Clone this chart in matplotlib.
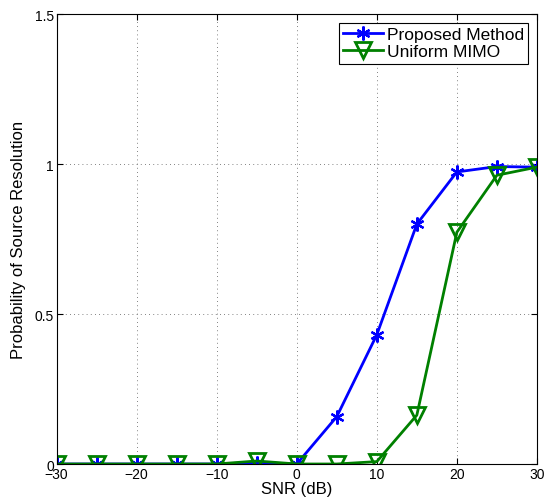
import matplotlib.pyplot as plt

plt.rcParams["font.family"] = ["Liberation Sans", "DejaVu Sans"]

snr = [-30, -25, -20, -15, -10, -5, 0, 5, 10, 15, 20, 25, 30]
proposed = [0, 0, 0, 0, 0, 0.005, 0, 0.158, 0.431, 0.80, 0.974, 0.992, 0.99]
uniform = [0, 0, 0, 0, 0, 0.01, 0, 0, 0.008, 0.163, 0.773, 0.963, 0.99]

fig = plt.figure(figsize=(5.44, 5.02), dpi=100)
ax = fig.add_axes([0.104, 0.0737, 0.883, 0.896])

ax.plot(snr, proposed, color="blue", lw=2, marker=(6, 2, 0), ms=10,
        mew=1.6, label="Proposed Method")
ax.plot(snr, uniform, color="green", lw=2, marker="v", ms=11,
        mfc="none", mew=2, label="Uniform MIMO")

ax.set_xlim(-30, 30)
ax.set_ylim(0, 1.5)
ax.set_xticks(range(-30, 31, 10))
ax.set_yticks([0, 0.5, 1, 1.5])
ax.set_yticklabels(["0", "0.5", "1", "1.5"])
ax.grid(True, color="0.35", linestyle=(0, (1, 4)), linewidth=0.6)
ax.tick_params(direction="in", top=True, right=True, labelsize=10, length=4,
               pad=2)
ax.set_xlabel("SNR (dB)", fontsize=12, labelpad=0)
ax.set_ylabel("Probability of Source Resolution", fontsize=12, labelpad=6)

leg = ax.legend(loc="upper right", fontsize=12.5, fancybox=False,
                edgecolor="black", framealpha=1, handlelength=2.3,
                borderaxespad=0.5, borderpad=0.25, labelspacing=0.1,
                handletextpad=0.2)
leg.get_frame().set_linewidth(0.8)

fig.savefig("out.png", dpi=100)
